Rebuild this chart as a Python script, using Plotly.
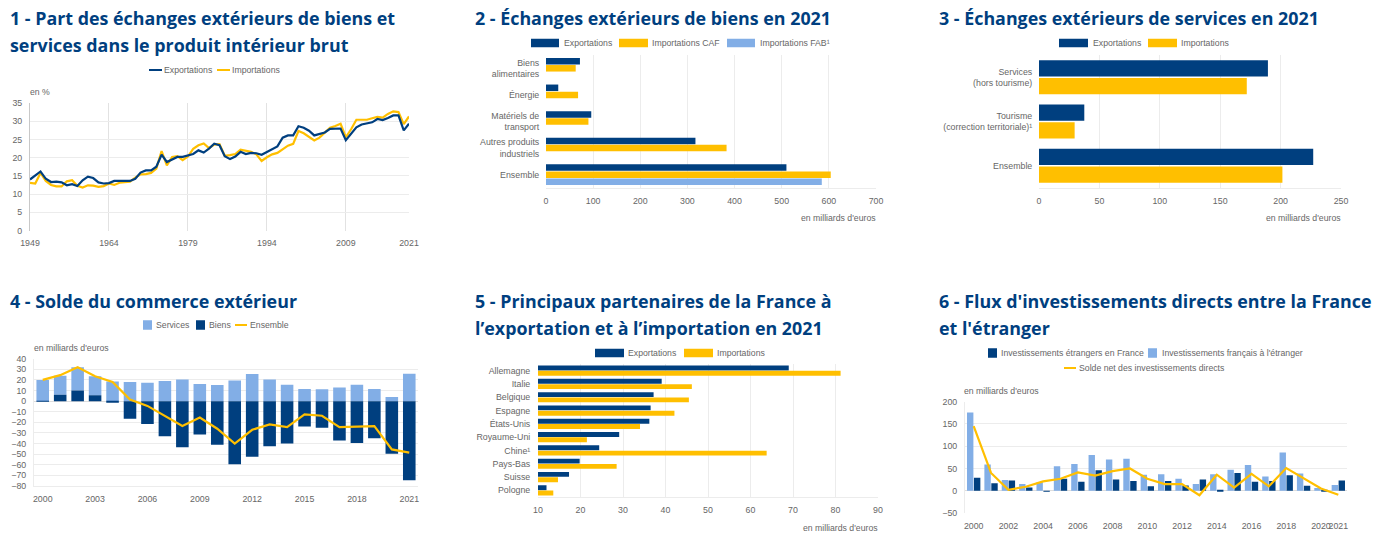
import plotly.graph_objects as go

W, H = 1386, 552
NAVY = "#003f7f"
YELLOW = "#ffbf00"
LIGHT = "#82aee6"
GRID = "#ececec"
TXT = "#666666"

# graphique 1
annees_1 = list(range(1949, 2022))
export_1 = [14.0, 15.2, 16.2, 14.2, 13.3, 13.4, 13.2, 12.4, 12.7, 12.2, 13.8, 14.8, 14.4, 13.2, 12.9, 13.0, 13.6, 13.6,
            13.5, 13.6, 14.2, 15.9, 16.5, 16.5, 17.5, 20.8, 18.8, 19.4, 20.2, 20.2, 20.7, 21.0, 22.0, 21.4, 22.5, 23.8,
            23.4, 20.4, 19.6, 20.3, 21.6, 21.0, 21.3, 21.2, 20.8, 21.5, 22.4, 23.1, 25.5, 26.1, 26.1, 28.6, 28.2, 27.4,
            26.1, 26.4, 26.9, 27.9, 27.9, 28.0, 24.8, 26.7, 28.3, 29.1, 29.4, 29.7, 30.6, 30.3, 30.9, 31.6, 31.6, 27.5, 29.3]
import_1 = [13.1, 12.9, 15.8, 13.6, 12.5, 12.1, 12.1, 13.5, 13.8, 12.3, 11.8, 12.4, 12.3, 12.0, 12.2, 12.9, 12.5, 13.1,
            13.3, 13.4, 14.5, 15.4, 15.5, 15.8, 17.0, 21.8, 17.9, 20.2, 20.4, 19.3, 20.3, 22.4, 23.4, 23.9, 22.6, 23.6,
            23.7, 20.5, 20.7, 21.0, 22.2, 21.9, 21.6, 20.9, 19.1, 20.1, 20.9, 21.3, 22.3, 23.3, 23.8, 27.3, 26.7, 25.6,
            24.7, 25.5, 26.9, 28.2, 28.7, 29.3, 25.6, 27.8, 30.4, 30.5, 30.4, 30.8, 31.2, 31.0, 32.0, 32.7, 32.5, 29.2, 31.3]
ticks_1 = [1949, 1964, 1979, 1994, 2009, 2021]

# graphique 2
cat_2 = ["Biens<br>alimentaires", "Énergie", "Matériels de<br>transport", "Autres produits<br>industriels", "Ensemble"]
export_2 = [72, 26, 96, 317, 510]
import_caf_2 = [63, 68, 90, 383, 604]
import_fab_2 = [None, None, None, None, 585]

# graphique 3
cat_3 = ["Services<br>(hors tourisme)", "Tourisme<br>(correction territoriale)¹", "Ensemble"]
export_3 = [189.5, 37.5, 227]
import_3 = [172, 29.5, 201.5]

# graphique 4
annees_4 = list(range(2000, 2022))
services_4 = [20, 18, 22, 18, 18.5, 18, 17.3, 19, 20.5, 16.2, 15.2, 19.5, 25.5, 20.5, 15.5, 11.5, 11.2, 12.8, 15.5, 11.5, 4, 25.7]
biens_4 = [-0.5, 6, 10, 5.5, -1, -16.5, -21.5, -33, -43.5, -31.5, -41, -59.5, -52.5, -42.5, -40, -24, -25, -37, -39.5, -35, -49.5, -74.5]
ensemble_4 = [20, 24.5, 32, 23.5, 18, 1.5, -4.5, -14, -23.5, -15.5, -26, -40, -27, -22, -24.5, -12.5, -13.8, -24.5, -24, -23.5, -45.5, -48.5]
ticks_4 = [2000, 2003, 2006, 2009, 2012, 2015, 2018, 2021]

# graphique 5
pays_5 = ["Allemagne", "Italie", "Belgique", "Espagne", "États-Unis", "Royaume-Uni", "Chine¹", "Pays-Bas", "Suisse", "Pologne"]
export_5 = [69, 39.1, 37.2, 36.5, 36.2, 29.1, 24.4, 19.8, 17.3, 12]
import_5 = [81.2, 46.2, 45.5, 42.1, 34, 21.5, 63.8, 28.5, 14.7, 13.6]

# graphique 6
annees_6 = list(range(2000, 2022))
francais_6 = [176, 59, 24, 15, 19, 55, 60, 80, 70, 72, 36, 37, 27, 15, 37, 47, 58, 32, 86, 39, 6, 13]
etrangers_6 = [29, 17, 23, 7, -2, 27, 20, 46, 25, 22, 10, 22, 12, 25, 2, 40, 20, 22, 35, 11, 1, 23]
solde_6 = [145, 40, 2, 9, 21, 27, 41, 34, 44, 50, 27, 15, 15, -10, 36, 7, 38, 10, 51, 28, 5, -9]
ticks_6 = [2000, 2002, 2004, 2006, 2008, 2010, 2012, 2014, 2016, 2018, 2020, 2021]


def px(x):
    return x / W


def py(y):
    return 1 - y / H


fig = go.Figure()


def axes(n, left, right, top, bottom, **kw):
    # place une paire d'axes en pixels dans la page
    font = dict(family="Liberation Sans", size=8.8, color=TXT)
    xa = dict(domain=[px(left), px(right)], anchor=f"y{n}", tickfont=font, showline=False, zeroline=False, tickangle=0,
              ticks="outside", ticklen=4, tickcolor="rgba(0,0,0,0)", gridcolor=GRID, gridwidth=1)
    ya = dict(domain=[py(bottom), py(top)], anchor=f"x{n}", tickfont=font, showline=False, zeroline=False,
              ticks="outside", ticklen=5, tickcolor="rgba(0,0,0,0)", gridcolor=GRID, gridwidth=1)
    xa.update(kw.get("x", {}))
    ya.update(kw.get("y", {}))
    fig.update_layout({f"xaxis{n}": xa, f"yaxis{n}": ya})


def barres(n, cats, series):
    for vals, col in series:
        fig.add_trace(go.Bar(x=vals, y=cats, orientation="h", marker_color=col, marker_line_width=0,
                             showlegend=False, xaxis=f"x{n}", yaxis=f"y{n}"))


# 1
fig.add_trace(go.Scatter(x=annees_1, y=import_1, mode="lines", line=dict(color=YELLOW, width=2.2), showlegend=False, xaxis="x1", yaxis="y1"))
fig.add_trace(go.Scatter(x=annees_1, y=export_1, mode="lines", line=dict(color=NAVY, width=2.2), showlegend=False, xaxis="x1", yaxis="y1"))
axes(1, 30, 409, 103, 230.5,
     x=dict(range=[1949, 2021], tickvals=ticks_1, showgrid=True, gridcolor="#e2e2e2"),
     y=dict(range=[0, 35], dtick=5, showgrid=True, showline=True, linecolor="#c8c8c8"))

# 2
barres(2, cat_2, [(export_2, NAVY), (import_caf_2, YELLOW), (import_fab_2, LIGHT)])
axes(2, 546, 876, 55, 188,
     x=dict(range=[0, 700], dtick=100, showgrid=True, showline=True, linecolor=GRID),
     y=dict(type="category", categoryorder="array", categoryarray=cat_2, range=[4.5, -0.5], showgrid=False, ticklen=4))

# 3
barres(3, cat_3, [(export_3, NAVY), (import_3, YELLOW)])
axes(3, 1039, 1341, 55, 188,
     x=dict(range=[0, 250], dtick=50, showgrid=True, showline=True, linecolor=GRID),
     y=dict(type="category", categoryorder="array", categoryarray=cat_3, range=[2.5, -0.5], showgrid=False, ticklen=4))

# 4 : empilement fait avec base, barmode est commun a toute la figure
base_services = [max(b, 0) for b in biens_4]
fig.add_trace(go.Bar(x=annees_4, y=services_4, base=base_services, width=0.72, offset=-0.36, marker_color=LIGHT,
                     marker_line_width=0, showlegend=False, xaxis="x4", yaxis="y4"))
fig.add_trace(go.Bar(x=annees_4, y=biens_4, width=0.72, offset=-0.36, marker_color=NAVY,
                     marker_line_width=0, showlegend=False, xaxis="x4", yaxis="y4"))
fig.add_trace(go.Scatter(x=annees_4, y=ensemble_4, mode="lines", line=dict(color=YELLOW, width=2.2), showlegend=False, xaxis="x4", yaxis="y4"))
axes(4, 34, 418, 358.7, 486,
     x=dict(range=[1999.5, 2021.5], tickvals=ticks_4, showgrid=False, showline=True, linecolor=GRID),
     y=dict(range=[-80, 40], dtick=10, showgrid=True, showline=True, linecolor=GRID, zeroline=True, zerolinecolor="#dddddd", zerolinewidth=1))

# 5
barres(5, pays_5, [(export_5, NAVY), (import_5, YELLOW)])
axes(5, 538, 878, 364, 497,
     x=dict(range=[10, 90], dtick=10, showgrid=True, showline=True, linecolor=GRID),
     y=dict(type="category", categoryorder="array", categoryarray=pays_5, range=[9.5, -0.5], showgrid=False, dtick=1))

# 6
fig.add_trace(go.Bar(x=annees_6, y=francais_6, marker_color=LIGHT, marker_line_width=0, showlegend=False, xaxis="x6", yaxis="y6"))
fig.add_trace(go.Bar(x=annees_6, y=etrangers_6, marker_color=NAVY, marker_line_width=0, showlegend=False, xaxis="x6", yaxis="y6"))
fig.add_trace(go.Scatter(x=annees_6, y=solde_6, mode="lines", line=dict(color=YELLOW, width=2.2), showlegend=False, xaxis="x6", yaxis="y6"))
axes(6, 965, 1347, 401.7, 513,
     x=dict(range=[1999.5, 2021.5], tickvals=ticks_6, showgrid=False),
     y=dict(range=[-50, 200], dtick=50, showgrid=True, showline=True, linecolor=GRID, zeroline=True, zerolinecolor="#dddddd", zerolinewidth=1))

annotations = []
shapes = []


def texte(x, y, s, size=8.7, color=TXT, anchor="left", family="Liberation Sans", bold=False):
    if bold:
        s = f"<b>{s}</b>"
    annotations.append(dict(x=px(x), y=py(y), xref="paper", yref="paper", text=s, showarrow=False, xanchor=anchor,
                            yanchor="middle", font=dict(family=family, size=size, color=color),
                            borderpad=0, borderwidth=0))


def cle_rect(x0, x1, y, h, col, s, xt):
    shapes.append(dict(type="rect", xref="paper", yref="paper", x0=px(x0), x1=px(x1), y0=py(y + h / 2), y1=py(y - h / 2),
                       fillcolor=col, line_width=0))
    texte(xt, y, s)


def cle_ligne(x0, x1, y, col, s, xt):
    shapes.append(dict(type="line", xref="paper", yref="paper", x0=px(x0), x1=px(x1), y0=py(y), y1=py(y),
                       line=dict(color=col, width=2)))
    texte(xt, y, s)


# titres
titres = [(10, 18, "1 - Part des échanges extérieurs de biens et"), (10, 45, "services dans le produit intérieur brut"),
          (475, 18, "2 - Échanges extérieurs de biens en 2021"), (939, 18, "3 - Échanges extérieurs de services en 2021"),
          (10, 301, "4 - Solde du commerce extérieur"), (475, 301, "5 - Principaux partenaires de la France à"),
          (475, 328, "l’exportation et à l’importation en 2021"), (939, 301, "6 - Flux d'investissements directs entre la France"),
          (939, 328, "et l'étranger")]
for x, y, s in titres:
    texte(x, y, s, size=17.85, color=NAVY, family="Open Sans", bold=True)

# legendes
cle_ligne(149, 162, 70, NAVY, "Exportations", 164)
cle_ligne(217, 230, 70, YELLOW, "Importations", 232)
cle_rect(531, 559, 43, 8.5, NAVY, "Exportations", 564)
cle_rect(619, 648, 43, 8.5, YELLOW, "Importations CAF", 652)
cle_rect(727, 755, 43, 8.5, LIGHT, "Importations FAB¹", 760)
cle_rect(1059, 1088, 43, 8.5, NAVY, "Exportations", 1093)
cle_rect(1148, 1177, 43, 8.5, YELLOW, "Importations", 1181)
cle_rect(143, 152, 325, 9.5, LIGHT, "Services", 156)
cle_rect(196, 205, 325, 9.5, NAVY, "Biens", 209)
cle_ligne(235, 247, 325, YELLOW, "Ensemble", 250)
cle_rect(595, 624, 353, 8.5, NAVY, "Exportations", 628)
cle_rect(684, 713, 353, 8.5, YELLOW, "Importations", 717)
cle_rect(988, 997, 353, 9.5, NAVY, "Investissements étrangers en France", 1001)
cle_rect(1148, 1157, 353, 9.5, LIGHT, "Investissements français à l'étranger", 1162)
cle_ligne(1064, 1076, 368, YELLOW, "Solde net des investissements directs", 1079)

# unites
texte(30, 92, "en %")
texte(876, 218, "en milliards d'euros", anchor="right")
texte(1341, 218, "en milliards d'euros", anchor="right")
texte(33.7, 348, "en milliards d'euros")
texte(878, 528, "en milliards d'euros", anchor="right")
texte(964, 390.6, "en milliards d'euros")

fig.update_layout(width=W, height=H, margin=dict(l=0, r=0, t=0, b=0, autoexpand=False), paper_bgcolor="white", plot_bgcolor="white",
                  barmode="group", bargap=0.2, bargroupgap=0.08, showlegend=False,
                  annotations=annotations, shapes=shapes)

fig.write_html("out.html", config={"displayModeBar": False}, post_script="document.body.style.margin='0';")
